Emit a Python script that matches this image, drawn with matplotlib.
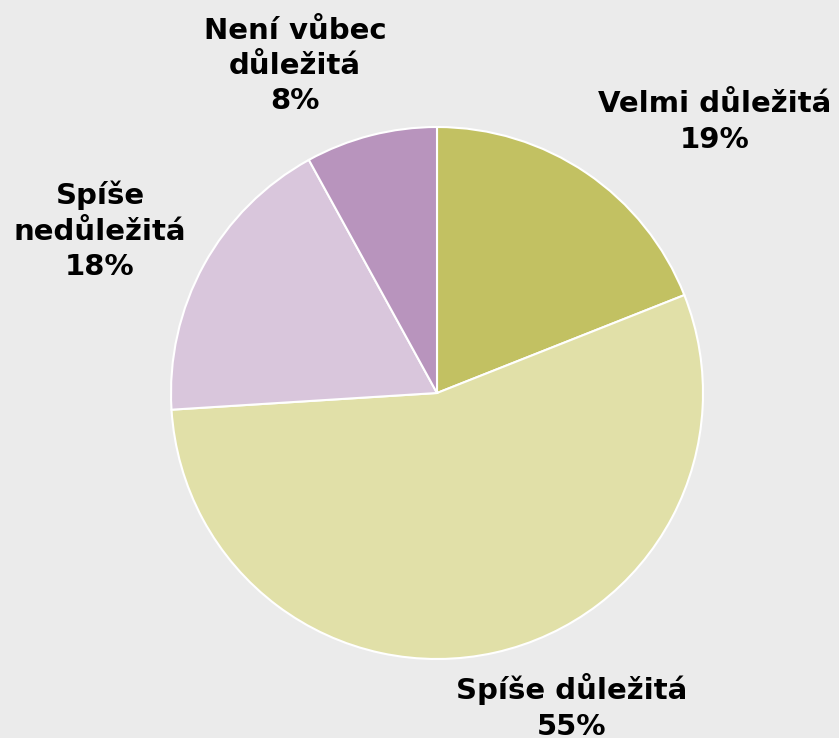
import matplotlib

matplotlib.use("Agg")
import matplotlib.pyplot as plt

categories = ["Velmi důležitá", "Spíše důležitá", "Spíše nedůležitá", "Není vůbec důležitá"]
shares = [19, 55, 18, 8]
label_texts = ["Velmi důležitá\n19%", "Spíše důležitá\n55%", "Spíše\nnedůležitá\n18%", "Není vůbec\ndůležitá\n8%"]
colors = ["#C2C162", "#E1E0A8", "#D9C6DC", "#B894BD"]

# label centres in pixels of the 839x738 canvas
label_px = [(715, 122), (572, 707), (100, 231), (295, 66)]

W, H = 839, 738
cx, cy, r = 437, 393, 266
bg = "#EBEBEB"

fig = plt.figure(figsize=(W / 100, H / 100), dpi=100, facecolor=bg)
ax = fig.add_axes([(cx - r) / W, (H - cy - r) / H, 2 * r / W, 2 * r / H])
ax.set_facecolor(bg)

ax.pie(
    shares,
    colors=colors,
    startangle=90,
    counterclock=False,
    radius=1,
    wedgeprops={"edgecolor": "white", "linewidth": 1.5},
)
ax.set_xlim(-1, 1)
ax.set_ylim(-1, 1)
ax.axis("off")

for text, (px, py) in zip(label_texts, label_px):
    ax.text(
        (px - cx) / r,
        (cy - py) / r,
        text,
        ha="center",
        va="center",
        fontsize=21,
        fontweight="bold",
        family="DejaVu Sans",
        linespacing=1.33,
        clip_on=False,
    )

fig.savefig("out.png", dpi=100, facecolor=bg)
